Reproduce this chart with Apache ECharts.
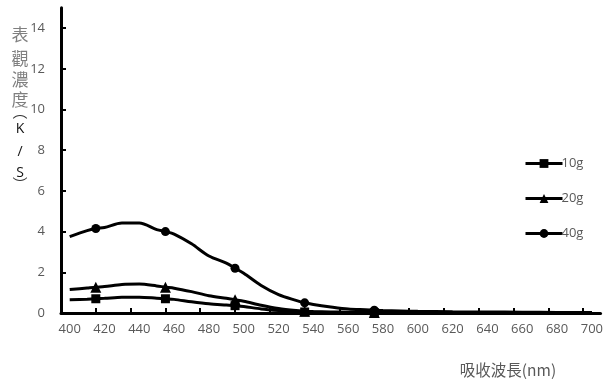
<!DOCTYPE html>
<html><head><meta charset="utf-8">
<script src="https://cdn.jsdelivr.net/npm/echarts@6/dist/echarts.min.js"></script>
<style>html,body{margin:0;padding:0;background:#fff}#c{width:606px;height:381px}</style>
</head><body><div id="c"></div>
<script>
const wavelengths = [400,410,415,420,430,440,450,455,460,470,480,490,495,500,510,520,530,535,540,550,560,570,575,580,590,600,620,640,660,680,700];
const s10g = [0.65,0.68,0.70,0.72,0.77,0.78,0.73,0.70,0.67,0.55,0.45,0.39,0.36,0.32,0.20,0.12,0.06,0.05,0.04,0.03,0.03,0.02,0.02,0.02,0.02,0.02,0.02,0.02,0.02,0.02,0.02];
const s20g = [1.15,1.23,1.27,1.30,1.40,1.42,1.33,1.27,1.22,1.05,0.85,0.72,0.65,0.58,0.38,0.22,0.12,0.09,0.07,0.05,0.04,0.03,0.03,0.03,0.02,0.02,0.02,0.02,0.02,0.02,0.02];
const s40g = [3.75,4.05,4.15,4.20,4.42,4.42,4.10,4.00,3.88,3.40,2.80,2.45,2.20,1.95,1.35,0.90,0.62,0.50,0.42,0.30,0.20,0.16,0.14,0.12,0.10,0.08,0.06,0.05,0.04,0.03,0.03];
const markerWL = [415,455,495,535,575];
const xLabels = [400,420,440,460,480,500,520,540,560,580,600,620,640,660,680,700];
const xTicks = [415,435,455,475,495,515,535,555,575,595,615,635,655,675,695];
const yTitleChars = ['表','觀','濃','度'];
const yTitleLatin = ['︵','K','/','S','︶'];

const pairs = arr => wavelengths.map((w,i)=> markerWL.includes(w) ? [w,arr[i]] : {value:[w,arr[i]], symbol:'none'});
const grey = '#595959';
function mk(name, data, sym, size){
  return {name, type:'line', data:pairs(data), smooth:0.3,
    symbol:sym, symbolSize:size, showSymbol:true, showAllSymbol:true,
    lineStyle:{color:'#000',width:3}, itemStyle:{color:'#000'}, z:3};
}
const graphics = [];
const cy = [35,59,80,100];
yTitleChars.forEach((ch,i)=>graphics.push({type:'text',x:20,y:cy[i],style:{text:ch,font:'17px "Noto Sans CJK TC"',fill:'#7f7f7f',align:'center',verticalAlign:'middle'}}));
const ly = [111,129,152,173,184];
yTitleLatin.forEach((ch,i)=>graphics.push({type:'text',x:20,y:ly[i],style:{text:ch,font:(i==0||i==4)?'15px "Noto Sans CJK TC"':'14px "Open Sans"',fill:(i==0||i==4)?'#333':'#111',align:'center',verticalAlign:'middle'}}));
graphics.push({type:'text',x:508,y:370,style:{text:'吸收波長(nm)',font:'15.5px "Noto Sans CJK TC"',fill:grey,align:'center',verticalAlign:'middle'}});

const chart = echarts.init(document.getElementById('c'));
chart.setOption({
  animation:false,
  grid:{left:61,right:3,top:7.75,bottom:68,containLabel:false},
  xAxis:{type:'value',min:395,max:705,
    axisLine:{show:true,lineStyle:{color:'#000',width:3}},
    axisTick:{show:true,inside:true,length:5,lineStyle:{color:'#000',width:2},customValues:xTicks},
    axisLabel:{color:grey,fontSize:13,fontFamily:'Open Sans',margin:10,customValues:xLabels},
    splitLine:{show:false}},
  yAxis:{type:'value',min:0,max:15,interval:2,
    axisLine:{show:true,lineStyle:{color:'#000',width:3}},
    axisTick:{show:true,inside:true,length:5,lineStyle:{color:'#000',width:2}},
    axisLabel:{color:grey,fontSize:13,fontFamily:'Open Sans',margin:16,showMaxLabel:false},
    splitLine:{show:false}},
  legend:{orient:'vertical',left:519,top:152,itemWidth:37,itemHeight:11,itemGap:22,
    lineStyle:{width:3,color:'#000'},
    textStyle:{color:grey,fontSize:13,fontFamily:'Open Sans',padding:[0,0,0,-6]},
    data:['10g','20g','40g']},
  graphic:graphics,
  series:[mk('10g',s10g,'rect',9),mk('20g',s20g,'triangle',11),mk('40g',s40g,'circle',9)]
});
</script></body></html>
